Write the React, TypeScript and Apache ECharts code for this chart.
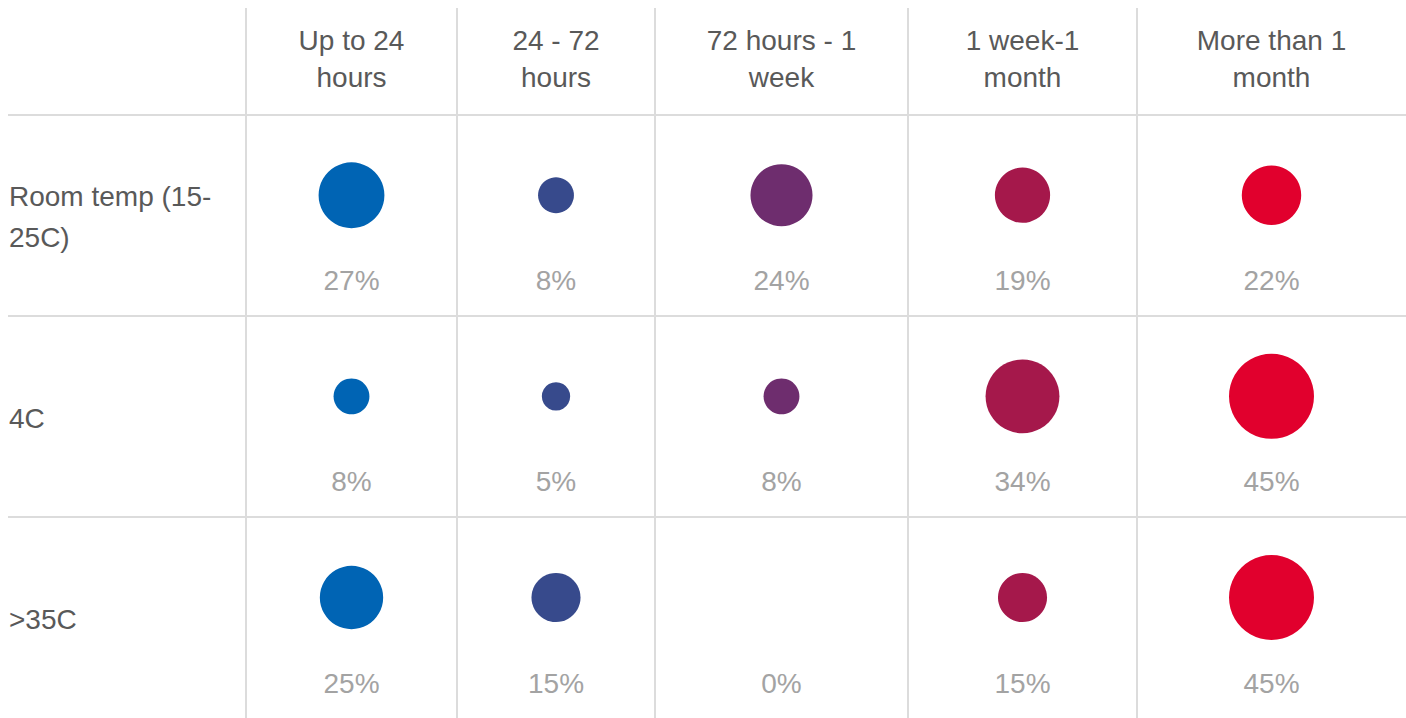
import React, { useEffect, useRef } from "react";
import * as echarts from "echarts";

const columns = ["Up to 24\nhours", "24 - 72\nhours", "72 hours - 1\nweek", "1 week-1\nmonth", "More than 1\nmonth"];
const rows = ["Room temp (15-\n25C)", "4C", ">35C"];
const roomTemp = [27, 8, 24, 19, 22];
const fourC = [8, 5, 8, 34, 45];
const above35 = [25, 15, 0, 15, 45];
const colors = ["#0064b4", "#374a8c", "#6e2d6e", "#a5184b", "#e1002d"];

// layout (pixels of the grid's own coordinate system)
const labelColW = 238;
const colWidths = [211, 198, 253, 229, 269];
const headerH = 107;
const rowH = 202;
const bubbleDy = 81;
const pctDy = 167;
const rowLabelDy = 103;
const FONT = '"Liberation Sans", Arial, Helvetica, sans-serif';

export default function App() {
  const ref = useRef<HTMLDivElement>(null);
  useEffect(() => {
    if (!ref.current) return;
    const chart = echarts.init(ref.current, null, { renderer: "svg" });
    const values = [roomTemp, fourC, above35];
    const edges: number[] = [labelColW];
    colWidths.forEach((w) => edges.push(edges[edges.length - 1] + w));
    const totalW = edges[edges.length - 1];
    const totalH = headerH + rows.length * rowH;
    const centers = colWidths.map((w, i) => edges[i] + w / 2);
    const rowTop = (r: number) => headerH + r * rowH;

    const bubbles: any[] = [];
    const pctTexts: any[] = [];
    values.forEach((vals, r) => {
      vals.forEach((v, c) => {
        bubbles.push({ value: [centers[c], rowTop(r) + bubbleDy, v], itemStyle: { color: colors[c] } });
        pctTexts.push({ value: [centers[c], rowTop(r) + pctDy], text: v + "%" });
      });
    });
    const headerTexts = columns.map((t, c) => ({ value: [centers[c], headerH / 2 - 2], text: t }));
    const rowTexts = rows.map((t, r) => ({ value: [1, rowTop(r) + rowLabelDy], text: t }));

    const textSeries = (items: any[], color: string, align: string, lh: number) => ({
      type: "custom",
      silent: true,
      data: items.map((d) => d.value),
      renderItem: (params: any, api: any) => {
        const p = api.coord([api.value(0), api.value(1)]);
        return {
          type: "text",
          x: p[0],
          y: p[1],
          style: {
            text: items[params.dataIndex].text,
            fill: color,
            font: `28px ${FONT}`,
            lineHeight: lh,
            align,
            verticalAlign: "middle",
            textAlign: align,
            textVerticalAlign: "middle",
          },
        };
      },
    });

    const lineStyle = { color: "#dcdcdc", width: 2, type: "solid" as const };

    chart.setOption({
      animation: false,
      grid: { left: 8, top: 8, width: totalW, height: totalH },
      xAxis: { type: "value", min: 0, max: totalW, show: false },
      yAxis: { type: "value", min: 0, max: totalH, inverse: true, show: false },
      series: [
        {
          type: "scatter",
          silent: true,
          data: [],
          markLine: {
            silent: true,
            symbol: "none",
            label: { show: false },
            lineStyle,
            data: [
              ...edges.slice(0, edges.length - 1).map((x) => ({ xAxis: x })),
              ...rows.map((_, r) => ({ yAxis: rowTop(r) })),
            ],
          },
        },
        {
          type: "scatter",
          silent: true,
          symbol: "circle",
          symbolSize: (val: number[]) => 12.67 * Math.sqrt(val[2]),
          itemStyle: { opacity: 1 },
          data: bubbles,
        },
        textSeries(pctTexts, "#a3a3a3", "center", 37),
        textSeries(headerTexts, "#595959", "center", 37),
        textSeries(rowTexts, "#595959", "left", 41),
      ],
    });
    return () => chart.dispose();
  }, []);
  return <div ref={ref} style={{ position: "absolute", left: 0, top: 0, width: 1406, height: 718 }} />;
}
